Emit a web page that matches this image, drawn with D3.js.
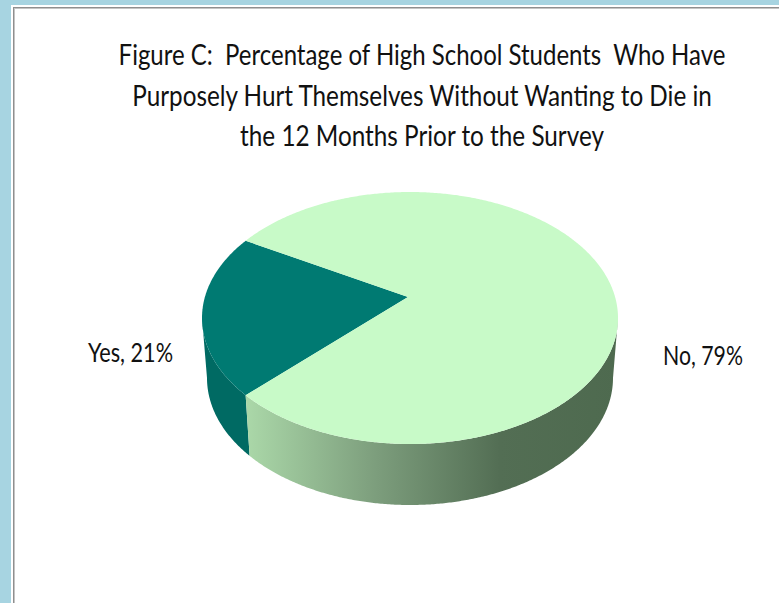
<!DOCTYPE html>
<html>
<head>
<meta charset="utf-8">
<script src="https://cdn.jsdelivr.net/npm/d3@7/dist/d3.min.js"></script>
<style>
  html, body { margin: 0; padding: 0; background: #a7d4e1; }
  svg { display: block; }
  text { white-space: pre; }
</style>
</head>
<body>
<script>
// Survey answers and their shares (percent)
const categories = ["Yes", "No"];
const values = [21, 79];
const topColors = ["#007a72", "#c8fac8"];
const sideColors = ["#006a63", "url(#noSide)"];
const titleLines = [
  "Figure C:  Percentage of High School Students  Who Have",
  "Purposely Hurt Themselves Without Wanting to Die in",
  "the 12 Months Prior to the Survey"
];
const titleWidths = [607, 580, 364];

const W = 779, H = 603;
const svg = d3.select("body").append("svg").attr("width", W).attr("height", H);

// Frame: blue page, white panel with a grey double edge
svg.append("rect").attr("width", W).attr("height", H).attr("fill", "#a7d4e1");
svg.append("rect").attr("x", 11).attr("y", 5).attr("width", W).attr("height", H).attr("fill", "#ffffff");
svg.append("rect").attr("x", 13.5).attr("y", 7.5).attr("width", W).attr("height", H)
  .attr("fill", "none").attr("stroke", "#8f8f8f").attr("stroke-width", 1);
svg.append("rect").attr("x", 14.5).attr("y", 8.5).attr("width", W).attr("height", H)
  .attr("fill", "none").attr("stroke", "#c4c4c4").attr("stroke-width", 1);

const defs = svg.append("defs");
const grad = defs.append("linearGradient").attr("id", "noSide")
  .attr("gradientUnits", "userSpaceOnUse").attr("x1", 248).attr("x2", 618).attr("y1", 0).attr("y2", 0);
grad.append("stop").attr("offset", 0).attr("stop-color", "#aad7a8");
grad.append("stop").attr("offset", 0.35).attr("stop-color", "#7c9d7c");
grad.append("stop").attr("offset", 0.68).attr("stop-color", "#536e54");
grad.append("stop").attr("offset", 1).attr("stop-color", "#4e6a4f");

// Narrow-text helper: draws a line, then squeezes it horizontally to the given width
function narrowText(parent, str, x, y, width, size, anchor) {
  const g = parent.append("g");
  const t = g.append("text")
    .attr("font-family", "Lato, 'Open Sans', sans-serif")
    .attr("font-size", size)
    .attr("fill", "#111")
    .attr("text-anchor", anchor)
    .attr("x", 0).attr("y", 0)
    .text(str);
  const natural = t.node().getComputedTextLength();
  const sx = width / natural;
  g.attr("transform", `translate(${x},${y}) scale(${sx},1)`);
  return g;
}

// Title
const titleG = svg.append("g");
titleLines.forEach((line, i) => {
  narrowText(titleG, line, 422, 65 + i * 40.5, titleWidths[i], 28, "middle");
});

// 3D pie geometry: top rim ellipse, bottom rim ellipse, projected centre
const topRim = { cx: 410, cy: 318, rx: 208, ry: 126 };
const botRim = { cx: 410, cy: 378, rx: 203, ry: 127 };
const apex = [408, 297];

const rad = Math.PI / 180;
// d3.pie angles run clockwise from 12 o'clock; rim parameter runs clockwise from 3 o'clock
const toT = a => a - Math.PI / 2;
const rimPt = (rim, t) => [rim.cx + rim.rx * Math.cos(t), rim.cy + rim.ry * Math.sin(t)];

const yesSpan = values[0] / d3.sum(values) * 2 * Math.PI;
const pie = d3.pie().sort(null)
  .startAngle(1.5 * Math.PI - yesSpan / 2)
  .endAngle(3.5 * Math.PI - yesSpan / 2);
const arcs = pie(values);

const line = d3.line();
const sample = (t0, t1) => {
  const n = Math.max(2, Math.ceil(Math.abs(t1 - t0) / (0.5 * rad)));
  return d3.range(n + 1).map(i => t0 + (t1 - t0) * i / n);
};

// Side walls: only the front half of the rim (t in [0, PI] modulo 2PI) is visible
const sides = svg.append("g");
arcs.forEach((a, i) => {
  const t0 = toT(a.startAngle), t1 = toT(a.endAngle);
  for (let k = -1; k <= 2; k++) {
    const lo = Math.max(t0, k * 2 * Math.PI), hi = Math.min(t1, k * 2 * Math.PI + Math.PI);
    if (hi <= lo) continue;
    const ts = sample(lo, hi);
    const pts = ts.map(t => rimPt(topRim, t)).concat(ts.slice().reverse().map(t => rimPt(botRim, t)));
    sides.append("path").attr("d", line(pts) + "Z").attr("fill", sideColors[i]);
  }
});

// Top faces
const tops = svg.append("g");
arcs.forEach((a, i) => {
  const ts = sample(toT(a.startAngle), toT(a.endAngle));
  const pts = [apex].concat(ts.map(t => rimPt(topRim, t)));
  tops.append("path").attr("d", line(pts) + "Z").attr("fill", topColors[i]);
});

// Data labels beside each slice
const labelG = svg.append("g");
arcs.forEach((a, i) => {
  const mid = toT((a.startAngle + a.endAngle) / 2);
  const c = Math.cos(mid);
  const left = c < 0;
  const x = topRim.cx + c * (topRim.rx + (left ? 29 : 45));
  narrowText(labelG, `${categories[i]}, ${values[i]}%`, x, left ? 362 : 365,
    left ? 85 : 80, 26, left ? "end" : "start");
});
</script>
</body>
</html>
